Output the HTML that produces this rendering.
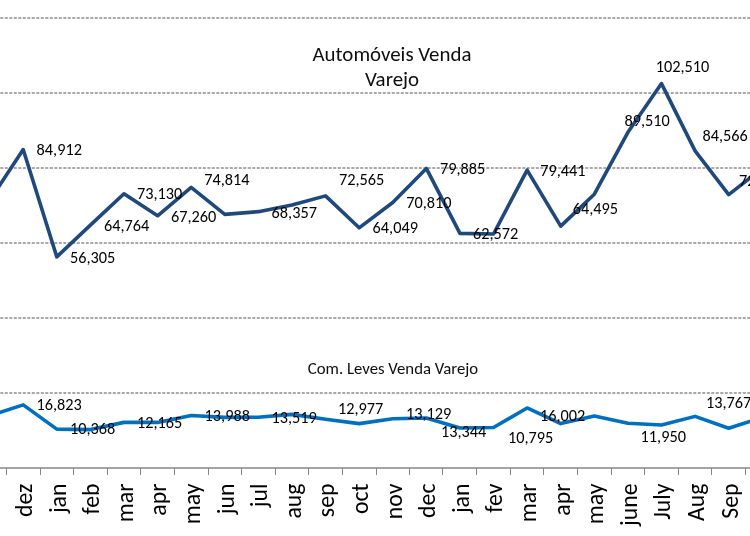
<!DOCTYPE html>
<html><head><meta charset="utf-8"><title>Vendas Varejo</title>
<style>html,body{margin:0;padding:0;background:#fff;width:750px;height:536px;overflow:hidden}svg{display:block}</style>
</head><body>
<svg width="750" height="536" viewBox="0 0 750 536">
<rect width="750" height="536" fill="#fff"/>
<line x1="0" y1="18" x2="750" y2="18" stroke="#8c8c8c" stroke-width="1.5" stroke-dasharray="3 1.5" stroke-dashoffset="-0.3"/>
<line x1="0" y1="93" x2="750" y2="93" stroke="#8c8c8c" stroke-width="1.5" stroke-dasharray="3 1.5" stroke-dashoffset="-0.3"/>
<line x1="0" y1="168" x2="750" y2="168" stroke="#8c8c8c" stroke-width="1.5" stroke-dasharray="3 1.5" stroke-dashoffset="-0.3"/>
<line x1="0" y1="243" x2="750" y2="243" stroke="#8c8c8c" stroke-width="1.5" stroke-dasharray="3 1.5" stroke-dashoffset="-0.3"/>
<line x1="0" y1="318" x2="750" y2="318" stroke="#8c8c8c" stroke-width="1.5" stroke-dasharray="3 1.5" stroke-dashoffset="-0.3"/>
<line x1="0" y1="393" x2="750" y2="393" stroke="#8c8c8c" stroke-width="1.5" stroke-dasharray="3 1.5" stroke-dashoffset="-0.3"/>
<line x1="0" y1="468" x2="750" y2="468" stroke="#868686" stroke-width="1.6"/>
<path d="M6.5 468V475 M40.5 468V475 M73.5 468V475 M107.5 468V475 M140.5 468V475 M174.5 468V475 M208.5 468V475 M241.5 468V475 M275.5 468V475 M308.5 468V475 M342.5 468V475 M376.5 468V475 M409.5 468V475 M442.5 468V475 M476.5 468V475 M510.5 468V475 M543.5 468V475 M577.5 468V475 M611.5 468V475 M644.5 468V475 M678.5 468V475 M711.5 468V475 M745.5 468V475" stroke="#868686" stroke-width="1" fill="none"/>
<polyline points="-10.39,200.40 23.20,149.58 56.80,256.86 90.39,225.14 123.98,193.76 157.58,215.78 191.17,187.45 224.77,214.40 258.37,211.66 291.96,205.00 325.56,195.88 359.15,227.82 392.74,202.46 426.34,168.43 459.94,233.36 493.53,234.00 527.12,170.10 560.72,226.14 594.32,194.20 627.91,132.34 661.50,83.59 695.10,150.88 728.70,194.60 762.29,168.50" fill="none" stroke="#1F497D" stroke-width="3.6" stroke-linejoin="round" stroke-linecap="round"/>
<polyline points="-10.39,415.70 23.20,404.91 56.80,429.12 90.39,429.60 123.98,422.38 157.58,422.40 191.17,415.55 224.77,417.40 258.37,417.30 291.96,414.40 325.56,419.34 359.15,423.60 392.74,418.77 426.34,417.96 459.94,428.00 493.53,427.52 527.12,407.99 560.72,423.60 594.32,416.00 627.91,423.19 661.50,425.00 695.10,416.37 728.70,428.20 762.29,417.30" fill="none" stroke="#0070C0" stroke-width="3.6" stroke-linejoin="round" stroke-linecap="round"/>
<g font-family="Carlito, 'Liberation Sans', sans-serif" font-size="16.3" fill="#000">
<text x="36.6" y="155.2" textLength="45.32" lengthAdjust="spacingAndGlyphs">84,912</text>
<text x="70.0" y="262.7" textLength="45.32" lengthAdjust="spacingAndGlyphs">56,305</text>
<text x="104.0" y="231.4" textLength="45.32" lengthAdjust="spacingAndGlyphs">64,764</text>
<text x="137.0" y="199.4" textLength="45.32" lengthAdjust="spacingAndGlyphs">73,130</text>
<text x="171.0" y="222.0" textLength="45.32" lengthAdjust="spacingAndGlyphs">67,260</text>
<text x="204.3" y="185.4" textLength="45.32" lengthAdjust="spacingAndGlyphs">74,814</text>
<text x="271.6" y="217.8" textLength="45.32" lengthAdjust="spacingAndGlyphs">68,357</text>
<text x="339.0" y="184.5" textLength="45.32" lengthAdjust="spacingAndGlyphs">72,565</text>
<text x="372.6" y="232.7" textLength="45.32" lengthAdjust="spacingAndGlyphs">64,049</text>
<text x="406.2" y="208.1" textLength="45.32" lengthAdjust="spacingAndGlyphs">70,810</text>
<text x="440.0" y="173.8" textLength="45.32" lengthAdjust="spacingAndGlyphs">79,885</text>
<text x="473.0" y="238.7" textLength="45.32" lengthAdjust="spacingAndGlyphs">62,572</text>
<text x="540.3" y="175.8" textLength="45.32" lengthAdjust="spacingAndGlyphs">79,441</text>
<text x="572.8" y="213.8" textLength="45.32" lengthAdjust="spacingAndGlyphs">64,495</text>
<text x="624.5" y="126.1" textLength="45.32" lengthAdjust="spacingAndGlyphs">89,510</text>
<text x="655.7" y="71.7" textLength="53.57" lengthAdjust="spacingAndGlyphs">102,510</text>
<text x="702.4" y="140.6" textLength="45.32" lengthAdjust="spacingAndGlyphs">84,566</text>
<text x="738.9" y="185.9" textLength="45.32" lengthAdjust="spacingAndGlyphs">72,920</text>
<text x="36.4" y="410.4" textLength="45.32" lengthAdjust="spacingAndGlyphs">16,823</text>
<text x="70.0" y="434.3" textLength="45.32" lengthAdjust="spacingAndGlyphs">10,368</text>
<text x="137.0" y="428.4" textLength="45.32" lengthAdjust="spacingAndGlyphs">12,165</text>
<text x="204.6" y="421.4" textLength="45.32" lengthAdjust="spacingAndGlyphs">13,988</text>
<text x="271.4" y="423.4" textLength="45.32" lengthAdjust="spacingAndGlyphs">13,519</text>
<text x="338.0" y="414.4" textLength="45.32" lengthAdjust="spacingAndGlyphs">12,977</text>
<text x="406.0" y="419.4" textLength="45.32" lengthAdjust="spacingAndGlyphs">13,129</text>
<text x="441.0" y="437.0" textLength="45.32" lengthAdjust="spacingAndGlyphs">13,344</text>
<text x="540.0" y="421.4" textLength="45.32" lengthAdjust="spacingAndGlyphs">16,002</text>
<text x="508.0" y="442.8" textLength="45.32" lengthAdjust="spacingAndGlyphs">10,795</text>
<text x="640.6" y="442.4" textLength="45.32" lengthAdjust="spacingAndGlyphs">11,950</text>
<text x="706.0" y="407.8" textLength="45.32" lengthAdjust="spacingAndGlyphs">13,767</text>
</g>
<g font-family="Carlito, 'Liberation Sans', sans-serif" fill="#0d0d0d">
<text x="392" y="61" font-size="20.9" text-anchor="middle" textLength="158.96" lengthAdjust="spacingAndGlyphs">Automóveis Venda</text>
<text x="392" y="86" font-size="20.9" text-anchor="middle" textLength="54.11" lengthAdjust="spacingAndGlyphs">Varejo</text>
<text x="393" y="373.5" font-size="16.75" text-anchor="middle" textLength="170.33" lengthAdjust="spacingAndGlyphs">Com. Leves Venda Varejo</text>
</g>
<g font-family="Carlito, 'Liberation Sans', sans-serif" font-size="23.8" fill="#000" text-anchor="end">
<text transform="translate(32.10,483.5) rotate(-90)" x="0" y="0" textLength="33.51" lengthAdjust="spacingAndGlyphs">dez</text>
<text transform="translate(65.70,483.5) rotate(-90)" x="0" y="0" textLength="29.60" lengthAdjust="spacingAndGlyphs">jan</text>
<text transform="translate(99.29,483.5) rotate(-90)" x="0" y="0" textLength="31.01" lengthAdjust="spacingAndGlyphs">feb</text>
<text transform="translate(132.88,483.5) rotate(-90)" x="0" y="0" textLength="38.70" lengthAdjust="spacingAndGlyphs">mar</text>
<text transform="translate(166.48,483.5) rotate(-90)" x="0" y="0" textLength="32.20" lengthAdjust="spacingAndGlyphs">apr</text>
<text transform="translate(200.07,483.5) rotate(-90)" x="0" y="0" textLength="40.74" lengthAdjust="spacingAndGlyphs">may</text>
<text transform="translate(233.67,483.5) rotate(-90)" x="0" y="0" textLength="30.70" lengthAdjust="spacingAndGlyphs">jun</text>
<text transform="translate(267.26,483.5) rotate(-90)" x="0" y="0" textLength="23.66" lengthAdjust="spacingAndGlyphs">jul</text>
<text transform="translate(300.86,483.5) rotate(-90)" x="0" y="0" textLength="35.10" lengthAdjust="spacingAndGlyphs">aug</text>
<text transform="translate(334.45,483.5) rotate(-90)" x="0" y="0" textLength="33.65" lengthAdjust="spacingAndGlyphs">sep</text>
<text transform="translate(368.05,483.5) rotate(-90)" x="0" y="0" textLength="30.58" lengthAdjust="spacingAndGlyphs">oct</text>
<text transform="translate(401.64,483.5) rotate(-90)" x="0" y="0" textLength="35.70" lengthAdjust="spacingAndGlyphs">nov</text>
<text transform="translate(435.24,483.5) rotate(-90)" x="0" y="0" textLength="34.41" lengthAdjust="spacingAndGlyphs">dec</text>
<text transform="translate(468.83,483.5) rotate(-90)" x="0" y="0" textLength="29.60" lengthAdjust="spacingAndGlyphs">jan</text>
<text transform="translate(502.43,483.5) rotate(-90)" x="0" y="0" textLength="29.14" lengthAdjust="spacingAndGlyphs">fev</text>
<text transform="translate(536.02,483.5) rotate(-90)" x="0" y="0" textLength="38.70" lengthAdjust="spacingAndGlyphs">mar</text>
<text transform="translate(569.62,483.5) rotate(-90)" x="0" y="0" textLength="32.20" lengthAdjust="spacingAndGlyphs">apr</text>
<text transform="translate(603.22,483.5) rotate(-90)" x="0" y="0" textLength="40.74" lengthAdjust="spacingAndGlyphs">may</text>
<text transform="translate(636.81,483.5) rotate(-90)" x="0" y="0" textLength="42.54" lengthAdjust="spacingAndGlyphs">june</text>
<text transform="translate(670.40,483.5) rotate(-90)" x="0" y="0" textLength="36.32" lengthAdjust="spacingAndGlyphs">July</text>
<text transform="translate(704.00,483.5) rotate(-90)" x="0" y="0" textLength="37.47" lengthAdjust="spacingAndGlyphs">Aug</text>
<text transform="translate(737.60,483.5) rotate(-90)" x="0" y="0" textLength="35.28" lengthAdjust="spacingAndGlyphs">Sep</text>
<text transform="translate(771.19,483.5) rotate(-90)" x="0" y="0" textLength="33.79" lengthAdjust="spacingAndGlyphs">Oct</text>
</g>
</svg>
</body></html>
